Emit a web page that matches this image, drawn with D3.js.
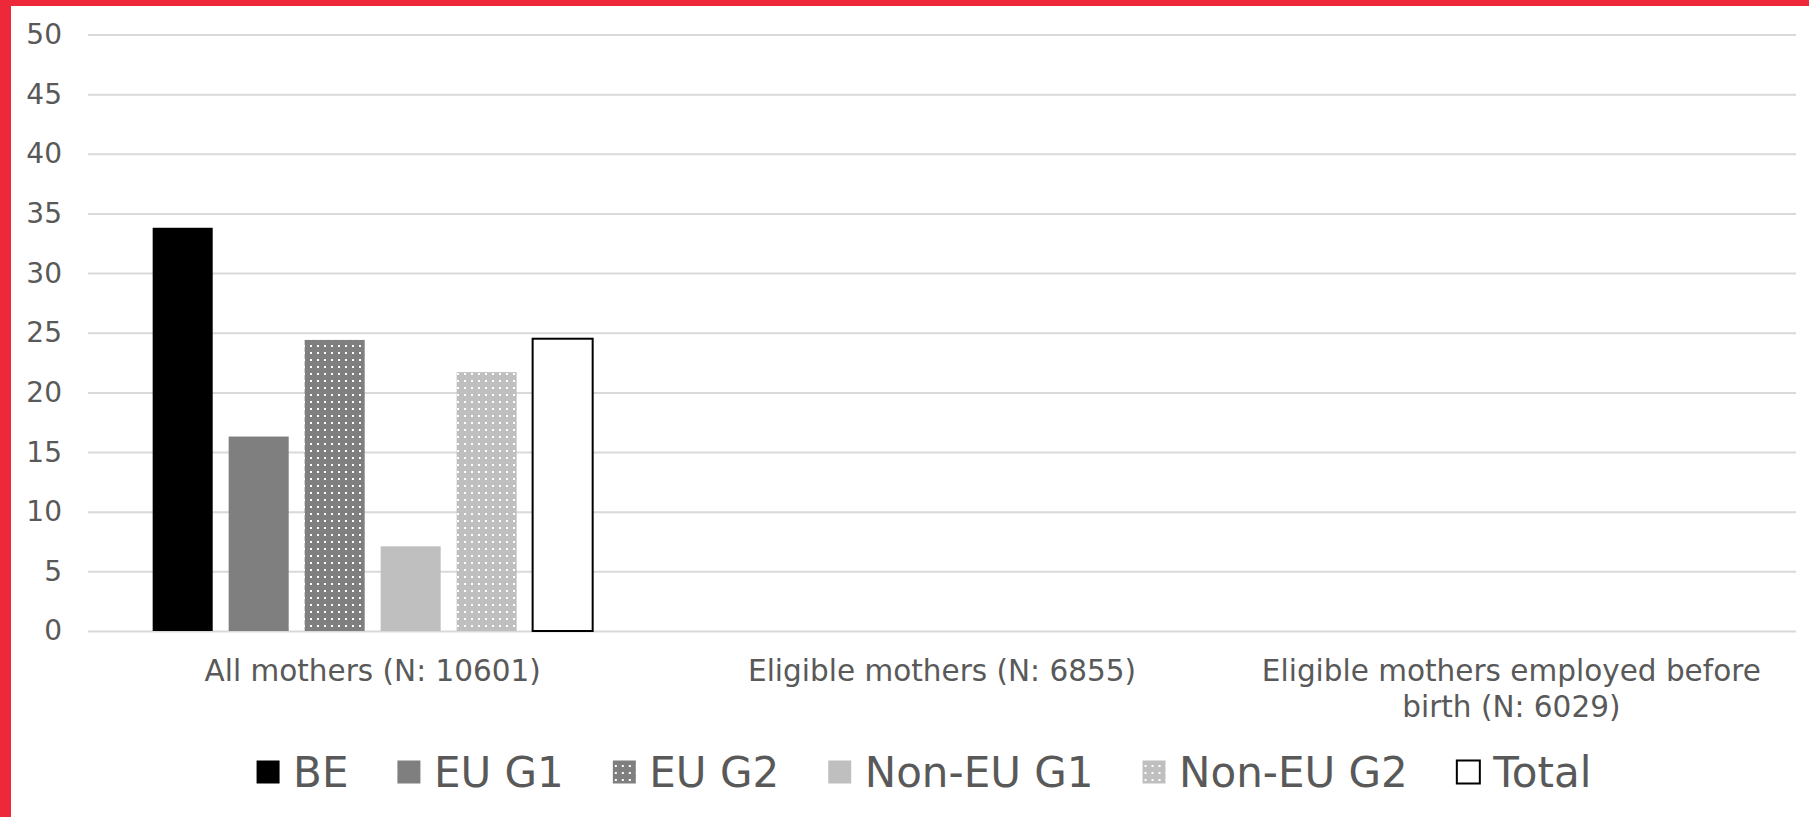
<!DOCTYPE html>
<meta charset="utf-8">
<title>Mothers by origin</title>
<style>
  body { margin: 0; background: white; }
  svg { display: block; font-family: "DejaVu Sans", Verdana, sans-serif; }
  .axis text { fill: #595959; }
  .axis line { stroke: #d9d9d9; stroke-width: 2px; }
  .legend text { fill: #595959; }
</style>
<body>
<div id="chart"></div>
<script src="https://d3js.org/d3.v7.min.js"></script>
<script>

// data
var categories = ["All mothers (N: 10601)", "Eligible mothers (N: 6855)", "Eligible mothers employed before birth (N: 6029)"];
var series = ["BE", "EU G1", "EU G2", "Non-EU G1", "Non-EU G2", "Total"];
var valuesBE      = [33.8, null, null];
var valuesEUG1    = [16.3, null, null];
var valuesEUG2    = [24.4, null, null];
var valuesNonEUG1 = [7.1, null, null];
var valuesNonEUG2 = [21.7, null, null];
var valuesTotal   = [24.5, null, null];
var yTicks = [0, 5, 10, 15, 20, 25, 30, 35, 40, 45, 50];

var seriesValues = {
  "BE": valuesBE, "EU G1": valuesEUG1, "EU G2": valuesEUG2,
  "Non-EU G1": valuesNonEUG1, "Non-EU G2": valuesNonEUG2, "Total": valuesTotal
};

var width = 1809, height = 817;
var plot = {left: 88, right: 1796, top: 34.5, bottom: 631};

var svg = d3.select("#chart").append("svg")
    .attr("width", width)
    .attr("height", height);

// red frame on the left and top
svg.append("rect").attr("x", 0).attr("y", 0).attr("width", 11).attr("height", height).attr("fill", "#ed2939");
svg.append("rect").attr("x", 0).attr("y", 0).attr("width", width).attr("height", 6).attr("fill", "#ed2939");

// dotted fills
var defs = svg.append("defs");
function dotPattern(id, base) {
  var p = defs.append("pattern")
      .attr("id", id)
      .attr("patternUnits", "userSpaceOnUse")
      .attr("width", 7).attr("height", 7);
  p.append("rect").attr("width", 7).attr("height", 7).attr("fill", base);
  p.append("rect").attr("x", 2).attr("y", 2).attr("width", 2).attr("height", 2).attr("fill", "white");
}
dotPattern("dotsDark", "#7f7f7f");
dotPattern("dotsLight", "#bfbfbf");

var fillColor = d3.scaleOrdinal()
  .domain(series)
  .range(["#000000", "#7f7f7f", "url(#dotsDark)", "#bfbfbf", "url(#dotsLight)", "#ffffff"]);

var y = d3.scaleLinear()
  .domain([0, 50])
  .range([plot.bottom, plot.top]);

var x0 = d3.scaleBand()
  .domain(categories)
  .range([plot.left, plot.right])
  .padding(0);

var groupWidth = 440;
var x1 = d3.scaleBand()
  .domain(series)
  .range([0, groupWidth])
  .paddingInner(0.21)
  .paddingOuter(0);

// Y axis with gridlines
var yAxis = svg.append("g")
  .attr("class", "axis")
  .attr("transform", "translate(" + plot.left + ",0)")
  .call(d3.axisLeft(y).tickValues(yTicks).tickSize(-(plot.right - plot.left)).tickPadding(26))
  .attr("font-family", null)
  .attr("font-size", null)
  .style("font-size", "28px");
yAxis.select(".domain").remove();

// bars
var rows = [];
categories.forEach(function(c, i) {
  series.forEach(function(s) {
    if (seriesValues[s][i] != null) rows.push({cat: c, key: s, value: seriesValues[s][i]});
  });
});

svg.append("g")
  .selectAll("rect")
  .data(rows)
  .enter()
  .append("rect")
    .attr("x", function(d) { return x0(d.cat) + (x0.bandwidth() - groupWidth) / 2 + x1(d.key); })
    .attr("y", function(d) { return y(d.value); })
    .attr("width", x1.bandwidth())
    .attr("height", function(d) { return y(0) - y(d.value); })
    .attr("fill", function(d) { return fillColor(d.key); })
    .attr("stroke", function(d) { return d.key == "Total" ? "#000" : "none"; })
    .attr("stroke-width", 2);

// category labels
var xAxis = svg.append("g")
  .attr("class", "axis")
  .attr("transform", "translate(0," + plot.bottom + ")")
  .call(d3.axisBottom(x0).tickSize(0).tickPadding(0))
  .attr("font-family", null)
  .attr("font-size", null)
  .style("font-size", "29.5px");
xAxis.select(".domain").remove();
xAxis.selectAll("text").call(wrap, 515);

function wrap(text, maxWidth) {
  text.each(function() {
    var text = d3.select(this),
        words = text.text().split(/\s+/),
        line = [],
        lines = [];
    text.text(null);
    var tspan = text.append("tspan");
    words.forEach(function(w) {
      line.push(w);
      tspan.text(line.join(" "));
      if (tspan.node().getComputedTextLength() > maxWidth && line.length > 1) {
        line.pop();
        lines.push(line.join(" "));
        line = [w];
      }
    });
    lines.push(line.join(" "));
    text.text(null).attr("dy", null).attr("y", 50);
    lines.forEach(function(l, i) {
      text.append("tspan").attr("x", 0).attr("dy", i == 0 ? 0 : 36).text(l);
    });
  });
}

// legend
var legend = svg.append("g").attr("class", "legend").style("font-size", "42px");
var items = legend.selectAll("g")
  .data(series)
  .enter()
  .append("g");
items.append("rect")
  .attr("width", 23).attr("height", 23)
  .attr("y", 760.5)
  .attr("fill", function(d) { return fillColor(d); })
  .attr("stroke", function(d) { return d == "Total" ? "#000" : "none"; })
  .attr("stroke-width", 2);
items.append("text")
  .attr("x", 36.5)
  .attr("y", 786.5)
  .text(function(d) { return d; });

var pos = 0, offsets = [];
items.each(function() {
  offsets.push(pos);
  pos += 36.5 + d3.select(this).select("text").node().getComputedTextLength() + 49;
});
var legendWidth = pos - 49;
var legendStart = 924 - legendWidth / 2;
items.attr("transform", function(d, i) { return "translate(" + (legendStart + offsets[i]) + ",0)"; });

</script>
</body>
